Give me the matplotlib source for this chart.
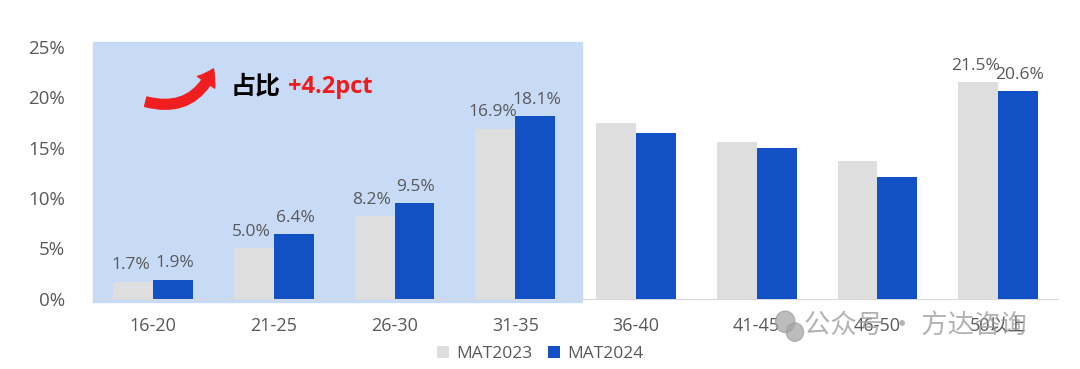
import matplotlib.pyplot as plt
import numpy as np
from matplotlib.patches import Rectangle, FancyArrowPatch, Ellipse

plt.rcParams['font.family'] = ['Open Sans', 'Noto Sans CJK SC', 'DejaVu Sans']

categories = ['16-20', '21-25', '26-30', '31-35', '36-40', '41-45', '46-50', '50以上']
mat2023 = [1.7, 5.0, 8.2, 16.9, 17.5, 15.6, 13.7, 21.5]
mat2024 = [1.9, 6.4, 9.5, 18.1, 16.5, 15.0, 12.1, 20.6]
labelled = [0, 1, 2, 3, 7]
yticks = [0, 5, 10, 15, 20, 25]

grey = '#dedede'
blue = '#1250c6'
txt = '#595959'

fig = plt.figure(figsize=(10.8, 3.69), dpi=100)
ax = fig.add_axes([0.086, 0.19, 0.894, 0.6965])

x = np.arange(len(categories))
w = 0.33
ax.bar(x - w / 2, mat2023, w, color=grey, label='MAT2023', zorder=2)
ax.bar(x + w / 2, mat2024, w, color=blue, label='MAT2024', zorder=2)

# highlighted block over the younger groups
ax.add_patch(Rectangle((-0.5, -0.3), 4.05, 25.8, color='#c8dbf6', zorder=0, clip_on=False))

for i in labelled:
    ax.annotate(f'{mat2023[i]:.1f}%', (x[i] - w / 2, mat2023[i]), xytext=(-2, 6),
                textcoords='offset points', ha='center', va='bottom', fontsize=12.5, color=txt, zorder=3)
    ax.annotate(f'{mat2024[i]:.1f}%', (x[i] + w / 2, mat2024[i]), xytext=(1, 6),
                textcoords='offset points', ha='center', va='bottom', fontsize=12.5, color=txt, zorder=3)

ax.set_xlim(-0.5, len(categories) - 0.5)
ax.set_ylim(0, 25.5)
ax.set_yticks(yticks)
ax.set_yticklabels([f'{v}%' for v in yticks], fontsize=13.5, color=txt)
ax.set_xticks(x)
ax.set_xticklabels(categories, fontsize=13, color=txt)
ax.tick_params(length=0, pad=20, axis='y')
ax.tick_params(length=0, pad=13, axis='x')
for s in ['top', 'right', 'left']:
    ax.spines[s].set_visible(False)
ax.spines['bottom'].set_color('#d9d9d9')
ax.spines['bottom'].set_zorder(1)

# red arrow and callout
arrow = FancyArrowPatch((0.052, 0.77), (0.126, 0.905), transform=ax.transAxes,
                        connectionstyle='arc3,rad=0.45',
                        arrowstyle='simple,head_width=15,head_length=11,tail_width=7',
                        color='#f01e1e', zorder=4)
ax.add_patch(arrow)
fig.text(0.214, 0.765, '占比', fontsize=18, fontweight='bold', color='black',
         family=['Noto Sans CJK SC'], va='center')
fig.text(0.267, 0.765, '+4.2pct', fontsize=17, fontweight='bold', color='#ee1c1c', va='center')

fig.legend(loc='center', bbox_to_anchor=(0.5, 0.04), ncol=2, frameon=False, fontsize=12.5,
           handlelength=0.7, handleheight=0.7, columnspacing=0.9, handletextpad=0.4,
           labelcolor=txt)

# watermark
fig.add_artist(Ellipse((0.727, 0.128), 0.018, 0.058, transform=fig.transFigure,
                       color='#a0a0a0', alpha=0.7, zorder=5))
fig.add_artist(Ellipse((0.736, 0.100), 0.016, 0.050, transform=fig.transFigure,
                       color='#a0a0a0', alpha=0.7, zorder=5))
fig.text(0.744, 0.118, '公众号 · 方达咨询', fontsize=19, color='#9a9a9a', alpha=0.75,
         family=['Noto Sans CJK SC'], va='center')

fig.savefig('out.png', dpi=100)
